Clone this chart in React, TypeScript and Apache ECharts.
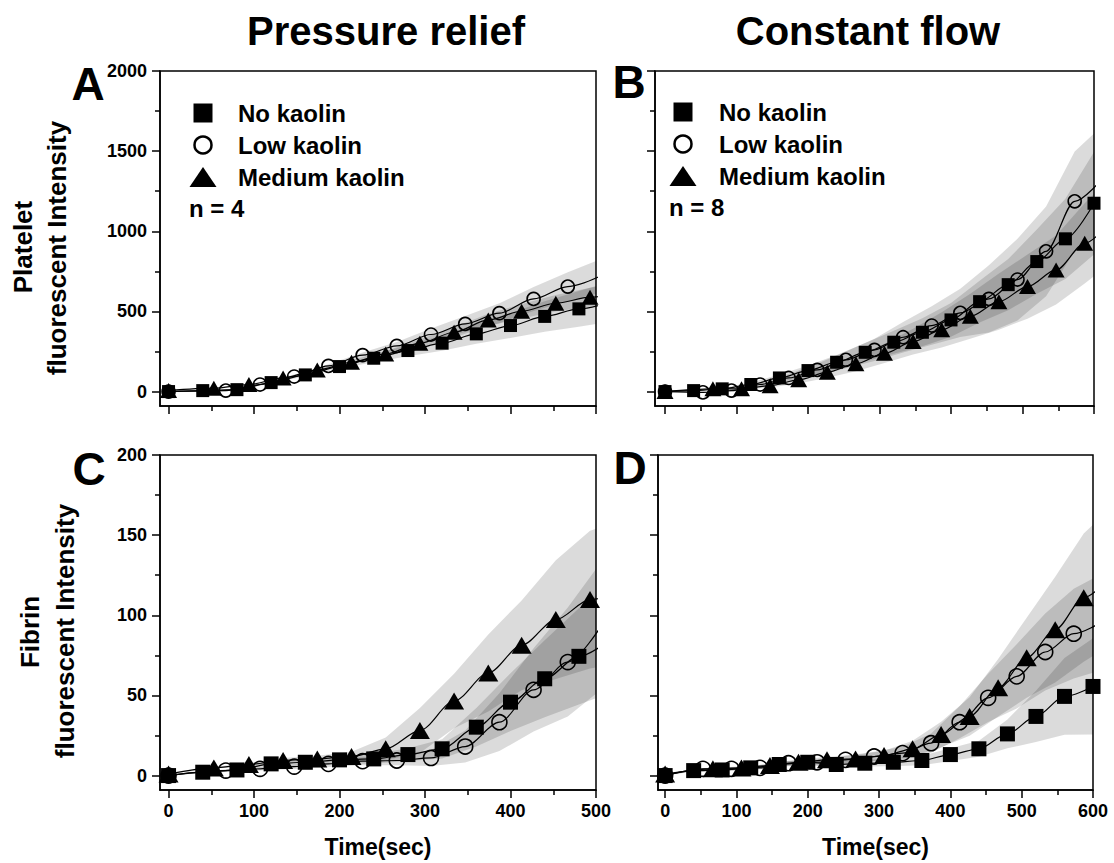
import React, { useEffect, useRef } from "react";
import * as echarts from "echarts";

const FONT = '"Liberation Sans", Arial, Helvetica, sans-serif';

// ---------- Panel A: Pressure relief, platelet ----------
const aNoX = [0, 40, 80, 120, 160, 200, 240, 280, 320, 360, 400, 440, 480, 520];
const aNoY = [0, 6, 12, 56, 104, 156, 208, 256, 302, 360, 412, 469, 516, 565];
const aNoSd = [0, 2, 3, 5, 8, 12, 25, 35, 48, 62, 78, 95, 112, 125];
const aLowX = [0, 67, 107, 147, 187, 227, 267, 307, 347, 387, 427, 467, 507];
const aLowY = [0, 6, 44, 94, 160, 227, 285, 356, 422, 489, 578, 655, 725];
const aLowSd = [0, 2, 4, 6, 10, 16, 25, 38, 50, 62, 75, 90, 105];
const aMedX = [0, 53, 94, 134, 174, 214, 254, 294, 334, 374, 413, 453, 493, 533];
const aMedY = [6, 21, 44, 85, 135, 183, 235, 301, 370, 447, 501, 551, 589, 625];
const aMedSd = [0, 2, 3, 5, 8, 12, 18, 25, 32, 38, 45, 52, 58, 62];

// ---------- Panel B: Constant flow, platelet ----------
const bNoX = [0, 40, 80, 120, 160, 200, 240, 280, 320, 360, 400, 440, 480, 520, 560, 600];
const bNoY = [0, 6, 17, 44, 85, 131, 183, 245, 308, 370, 447, 561, 667, 811, 953, 1175];
const bNoSd = [0, 3, 6, 12, 22, 32, 45, 58, 72, 88, 105, 130, 160, 200, 250, 320];
const bLowX = [0, 53, 93, 133, 173, 213, 253, 293, 333, 373, 413, 453, 493, 533, 573, 613];
const bLowY = [0, -5, 6, 44, 85, 135, 198, 260, 339, 412, 491, 578, 699, 875, 1187, 1335];
const bLowSd = [0, 3, 6, 14, 25, 38, 52, 70, 95, 120, 150, 210, 255, 280, 310, 330];
const bMedX = [0, 67, 107, 147, 187, 227, 267, 307, 347, 387, 427, 467, 507, 547, 587, 627];
const bMedY = [0, 17, 17, 37, 73, 121, 173, 239, 312, 385, 470, 561, 655, 759, 925, 1080];
const bMedSd = [0, 4, 6, 12, 22, 34, 46, 60, 80, 110, 140, 175, 200, 215, 250, 270];

// ---------- Panel C: Pressure relief, fibrin ----------
const cNoX = [0, 40, 80, 120, 160, 200, 240, 280, 320, 360, 400, 440, 480, 520];
const cNoY = [0, 2.1, 3.5, 7.3, 8.3, 9.8, 10.4, 13.1, 16.7, 30.2, 45.8, 60.4, 74.4, 86];
const cNoSd = [0, 0.5, 1, 1.5, 2, 2.5, 3, 4, 6, 12, 18, 24, 30, 34];
const cLowX = [0, 67, 107, 147, 187, 227, 267, 307, 347, 387, 427, 467, 507];
const cLowY = [0, 3.1, 4.2, 5.6, 7.3, 9, 9.4, 11, 18.1, 33.3, 53.5, 70.8, 94];
const cLowSd = [0, 0.5, 1, 1.5, 2, 2.5, 3, 5, 10, 18, 26, 34, 40];
const cMedX = [0, 53, 94, 134, 174, 214, 254, 294, 334, 374, 413, 453, 493, 533];
const cMedY = [1, 4.8, 6.9, 9.4, 10.4, 11.9, 16.7, 28.1, 46.5, 64, 81.3, 97.3, 109.8, 115];
const cMedSd = [0, 0.5, 1, 1.5, 2, 3, 7, 14, 17, 24, 28, 37, 43, 45];

// ---------- Panel D: Constant flow, fibrin ----------
const dNoX = [0, 40, 80, 120, 160, 200, 240, 280, 320, 360, 400, 440, 480, 520, 560, 600];
const dNoY = [0, 3.1, 3.5, 4.8, 6.9, 8.3, 6.9, 7.7, 8.3, 9.4, 13.1, 16.7, 26, 36.9, 49.4, 55.6];
const dNoSd = [0, 0.5, 1, 1, 1.5, 1.5, 2, 2, 2.5, 3, 4, 5, 9, 16, 24, 30];
const dLowX = [0, 53, 93, 133, 173, 213, 253, 293, 333, 373, 413, 453, 493, 533, 573, 613];
const dLowY = [0, 4.2, 4.2, 4.8, 7.7, 8.3, 9.8, 11.9, 14, 20.2, 33.3, 48.5, 61.9, 77.1, 88.5, 96];
const dLowSd = [0, 0.5, 1, 1, 1.5, 2, 2.5, 3, 4, 6, 10, 15, 20, 24, 28, 30];
const dMedX = [0, 67, 107, 147, 187, 227, 267, 307, 347, 387, 427, 467, 507, 547, 587, 627];
const dMedY = [1, 4.2, 4.8, 6.3, 8.3, 9.8, 10.4, 12.5, 16.7, 25.6, 36.9, 54.8, 73.5, 91, 111, 125];
const dMedSd = [0, 0.5, 1, 1, 1.5, 2, 2.5, 3, 5, 8, 12, 18, 25, 33, 40, 43];

// ---------- Axes ticks ----------
const x500Major = [0, 100, 200, 300, 400, 500];
const x500Minor = [50, 150, 250, 350, 450];
const x600Major = [0, 100, 200, 300, 400, 500, 600];
const x600Minor = [50, 150, 250, 350, 450, 550];
const yPlateletMajor = [0, 500, 1000, 1500, 2000];
const yPlateletMinor = [250, 750, 1250, 1750];
const yFibrinMajor = [0, 50, 100, 150, 200];
const yFibrinMinor = [25, 75, 125, 175];

const seriesNames = ["No kaolin", "Low kaolin", "Medium kaolin"];
const columnTitles = ["Pressure relief", "Constant flow"];
const panelLetters = ["A", "B", "C", "D"];

type Panel = {
  grid: { left: number; top: number; width: number; height: number };
  xMin: number; xMax: number; yMin: number; yMax: number;
  xMajor: number[]; xMinor: number[]; yMajor: number[]; yMinor: number[];
  showX: boolean;
  showY: boolean;
  sets: { x: number[]; y: number[]; sd: number[] }[];
  big: boolean;
};

const panels: Panel[] = [
  {
    grid: { left: 160, top: 71, width: 436, height: 335 },
    xMin: -10, xMax: 500, yMin: -90, yMax: 2000,
    xMajor: x500Major, xMinor: x500Minor, yMajor: yPlateletMajor, yMinor: yPlateletMinor,
    showX: false, showY: true, big: false,
    sets: [
      { x: aNoX, y: aNoY, sd: aNoSd },
      { x: aLowX, y: aLowY, sd: aLowSd },
      { x: aMedX, y: aMedY, sd: aMedSd },
    ],
  },
  {
    grid: { left: 655, top: 71, width: 439, height: 335 },
    xMin: -14, xMax: 600, yMin: -90, yMax: 2000,
    xMajor: x600Major, xMinor: x600Minor, yMajor: yPlateletMajor, yMinor: yPlateletMinor,
    showX: false, showY: false, big: false,
    sets: [
      { x: bNoX, y: bNoY, sd: bNoSd },
      { x: bLowX, y: bLowY, sd: bLowSd },
      { x: bMedX, y: bMedY, sd: bMedSd },
    ],
  },
  {
    grid: { left: 160, top: 455, width: 436, height: 335 },
    xMin: -10, xMax: 500, yMin: -9, yMax: 200,
    xMajor: x500Major, xMinor: x500Minor, yMajor: yFibrinMajor, yMinor: yFibrinMinor,
    showX: true, showY: true, big: true,
    sets: [
      { x: cNoX, y: cNoY, sd: cNoSd },
      { x: cLowX, y: cLowY, sd: cLowSd },
      { x: cMedX, y: cMedY, sd: cMedSd },
    ],
  },
  {
    grid: { left: 658, top: 455, width: 435, height: 335 },
    xMin: -10, xMax: 600, yMin: -9, yMax: 200,
    xMajor: x600Major, xMinor: x600Minor, yMajor: yFibrinMajor, yMinor: yFibrinMinor,
    showX: true, showY: false, big: true,
    sets: [
      { x: dNoX, y: dNoY, sd: dNoSd },
      { x: dLowX, y: dLowY, sd: dLowSd },
      { x: dMedX, y: dMedY, sd: dMedSd },
    ],
  },
];

const plain = (v: number) => String(v);

function buildOption() {
  const grid: any[] = [];
  const xAxis: any[] = [];
  const yAxis: any[] = [];
  const series: any[] = [];
  const axisLine = { show: true, onZero: false, lineStyle: { color: "#000", width: 1.5 } };

  panels.forEach((p, g) => {
    grid.push({
      ...p.grid,
      show: true,
      borderColor: "#000",
      borderWidth: 1.5,
      backgroundColor: "transparent",
      containLabel: false,
    });
    xAxis.push({
      gridIndex: g, type: "value", position: "bottom", min: p.xMin, max: p.xMax,
      axisLine,
      axisTick: { show: true, inside: false, length: 8, lineStyle: { color: "#000", width: 1.5 }, customValues: p.xMajor },
      axisLabel: {
        show: p.showX, customValues: p.xMajor, formatter: plain, color: "#000", fontSize: 18, fontWeight: "bold",
        fontFamily: FONT, margin: 12, showMinLabel: true, showMaxLabel: true, hideOverlap: false,
      },
      splitLine: { show: false },
      name: p.showX ? "Time(sec)" : "",
      nameLocation: "middle",
      nameGap: 45,
      nameTextStyle: { color: "#000", fontSize: 23, fontWeight: "bold", fontFamily: FONT },
    });
    xAxis.push({
      gridIndex: g, type: "value", position: "bottom", min: p.xMin, max: p.xMax,
      axisLine: { show: false, onZero: false },
      axisTick: { show: true, inside: false, length: 5, lineStyle: { color: "#000", width: 1.5 }, customValues: p.xMinor },
      axisLabel: { show: false },
      splitLine: { show: false },
    });
    yAxis.push({
      gridIndex: g, type: "value", position: "left", min: p.yMin, max: p.yMax,
      axisLine,
      axisTick: { show: true, inside: false, length: 8, lineStyle: { color: "#000", width: 1.5 }, customValues: p.yMajor },
      axisLabel: {
        show: p.showY, customValues: p.yMajor, formatter: plain, color: "#000", fontSize: 18, fontWeight: "bold",
        fontFamily: FONT, margin: 13, showMinLabel: true, showMaxLabel: true, hideOverlap: false,
      },
      splitLine: { show: false },
    });
    yAxis.push({
      gridIndex: g, type: "value", position: "left", min: p.yMin, max: p.yMax,
      axisLine: { show: false, onZero: false },
      axisTick: { show: true, inside: false, length: 5, lineStyle: { color: "#000", width: 1.5 }, customValues: p.yMinor },
      axisLabel: { show: false },
      splitLine: { show: false },
    });

    // SD bands
    p.sets.forEach((s, k) => {
      series.push({
        type: "custom",
        name: seriesNames[k] + " SD",
        xAxisIndex: 2 * g,
        yAxisIndex: 2 * g,
        z: 1,
        silent: true,
        clip: true,
        data: s.x.map((x, i) => [x, s.y[i] - s.sd[i], s.y[i] + s.sd[i]]),
        encode: { x: 0, y: [1, 2] },
        renderItem: (params: any, api: any) => {
          if (params.dataIndex !== 0) return null;
          const up = s.x.map((x, i) => api.coord([x, s.y[i] + s.sd[i]]));
          const lo = s.x.map((x, i) => api.coord([x, s.y[i] - s.sd[i]])).reverse();
          const cs = params.coordSys;
          return {
            type: "polygon",
            shape: { points: up.concat(lo), smooth: 0 },
            style: { fill: "rgba(0,0,0,0.14)", stroke: "none" },
            clipPath: { type: "rect", shape: { x: cs.x, y: cs.y, width: cs.width, height: cs.height } },
          };
        },
      });
    });

    // mean lines
    const symbols = ["rect", "circle", "triangle"];
    const sizes = p.big ? [15, 15, [20, 17]] : [13, 13, [17, 15]];
    p.sets.forEach((s, k) => {
      const open = k === 1;
      series.push({
        type: "line",
        name: seriesNames[k],
        xAxisIndex: 2 * g,
        yAxisIndex: 2 * g,
        z: 3 + k,
        clip: true,
        data: s.x.map((x, i) => [x, s.y[i]]),
        symbol: symbols[k],
        symbolSize: sizes[k],
        showSymbol: true,
        smooth: 0.3,
        smoothMonotone: "x",
        lineStyle: { color: "#000", width: 1.2 },
        itemStyle: open
          ? { color: "rgba(0,0,0,0)", borderColor: "#000", borderWidth: 1.6 }
          : { color: "#000", borderWidth: 0 },
        emphasis: { disabled: true },
      });
    });
  });

  const bold = (size: number) => ({ fontSize: size, fontWeight: "bold", fontFamily: FONT, fill: "#000" });
  const center = { textAlign: "center", textVerticalAlign: "middle", align: "center", verticalAlign: "middle" };
  const leftMid = { textAlign: "left", textVerticalAlign: "middle", align: "left", verticalAlign: "middle" };

  const graphic: any[] = [];
  graphic.push({ type: "text", x: 386, y: 31, style: { text: columnTitles[0], ...bold(40), ...center } });
  graphic.push({ type: "text", x: 868, y: 31, style: { text: columnTitles[1], ...bold(40), ...center } });
  const letterPos = [[88, 84], [629, 82], [89, 469], [630, 468]];
  panelLetters.forEach((l, i) => {
    graphic.push({ type: "text", x: letterPos[i][0], y: letterPos[i][1], style: { text: l, ...bold(46), ...center } });
  });
  const yTitles = [
    ["Platelet", 23, 247],
    ["fluorescent Intensity", 57, 248],
    ["Fibrin", 30, 632],
    ["fluorescent Intensity", 65, 631],
  ];
  yTitles.forEach((t: any) => {
    graphic.push({ type: "text", x: t[1], y: t[2], rotation: Math.PI / 2, style: { text: t[0], ...bold(26), ...center } });
  });
  const legendPos = [[203, 238, 113, 189, "n = 4"], [683, 719, 112, 669, "n = 8"]];
  legendPos.forEach((lp: any) => {
    const [cx, tx, y0, nx, nText] = lp;
    const dy = 32;
    graphic.push({ type: "rect", shape: { x: cx - 9.5, y: y0 - 9.5, width: 19, height: 19 }, style: { fill: "#000" } });
    graphic.push({ type: "circle", shape: { cx, cy: y0 + dy, r: 8.5 }, style: { fill: "#fff", stroke: "#000", lineWidth: 2.5 } });
    graphic.push({ type: "polygon", shape: { points: [[cx - 13.5, y0 + 2 * dy + 10], [cx + 13.5, y0 + 2 * dy + 10], [cx, y0 + 2 * dy - 10]] }, style: { fill: "#000" } });
    seriesNames.forEach((n, i) => {
      graphic.push({ type: "text", x: tx, y: y0 + i * dy, style: { text: n, ...bold(24), ...leftMid } });
    });
    graphic.push({ type: "text", x: nx, y: y0 + 3 * dy - 1, style: { text: nText, ...bold(24), ...leftMid } });
  });

  return {
    animation: false,
    backgroundColor: "#fff",
    grid,
    xAxis,
    yAxis,
    series,
    graphic,
  };
}

export default function App() {
  const ref = useRef<HTMLDivElement>(null);
  useEffect(() => {
    if (!ref.current) return;
    const chart = echarts.init(ref.current, null, { renderer: "svg" });
    chart.setOption(buildOption() as any);
    return () => chart.dispose();
  }, []);
  return (
    <div
      ref={ref}
      style={{ position: "absolute", left: 0, top: 0, width: "1114px", height: "863px", background: "#fff" }}
    />
  );
}
